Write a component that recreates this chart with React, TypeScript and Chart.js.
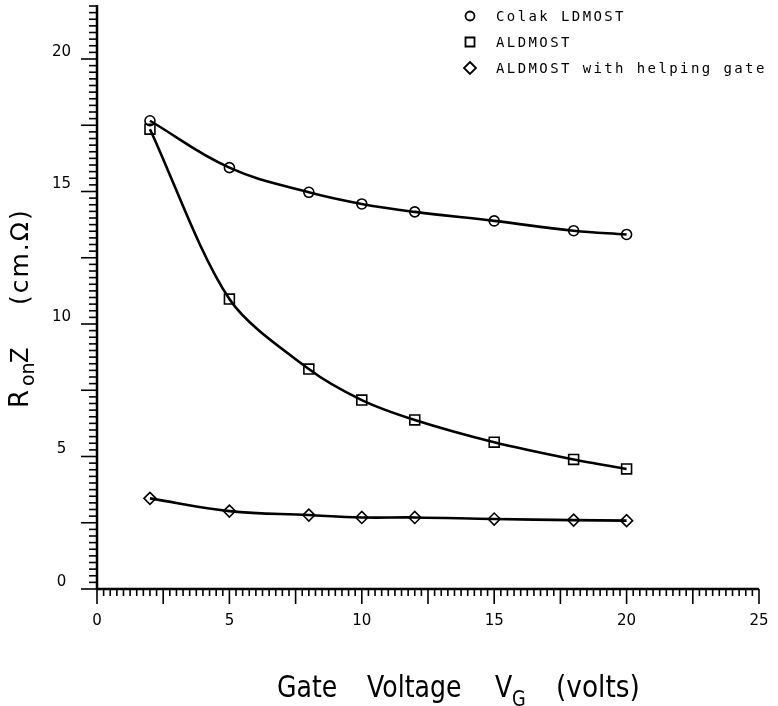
import React, { useEffect, useRef } from 'react';
import { Chart, registerables } from 'chart.js';

Chart.register(...registerables);

// ---- data ----
const gateVoltage = [2, 5, 8, 10, 12, 15, 18, 20];
const colakLdmost = [17.67, 15.9, 14.97, 14.53, 14.23, 13.89, 13.52, 13.38];
const aldmost = [17.35, 10.94, 8.3, 7.13, 6.38, 5.54, 4.89, 4.53];
const aldmostHelpingGate = [3.42, 2.94, 2.79, 2.7, 2.7, 2.64, 2.6, 2.58];
const seriesNames = ['Colak LDMOST', 'ALDMOST', 'ALDMOST with helping gate'];
const seriesMarkers = ['circle', 'rect', 'rectRot'];
const xRange = [0, 25];
const yRange = [0, 22];
const labelStep = 5;
const majorTickStep = 2.5;
const minorTickStep = 0.25;

const BLACK = '#000';

function drawMarker(ctx: CanvasRenderingContext2D, style: string, x: number, y: number) {
  ctx.beginPath();
  if (style === 'circle') {
    ctx.arc(x, y, 4.5, 0, Math.PI * 2);
  } else if (style === 'rect') {
    ctx.rect(x - 4.5, y - 4.5, 9, 9);
  } else {
    ctx.moveTo(x, y - 6);
    ctx.lineTo(x + 6, y);
    ctx.lineTo(x, y + 6);
    ctx.lineTo(x - 6, y);
    ctx.closePath();
  }
  ctx.stroke();
}

const axesPlugin = {
  id: 'handAxes',
  afterDraw(chart: any) {
    const ctx: CanvasRenderingContext2D = chart.ctx;
    const xs = chart.scales.x;
    const ys = chart.scales.y;
    const x0 = xs.getPixelForValue(xRange[0]);
    const x1 = xs.getPixelForValue(xRange[1]);
    const y0 = ys.getPixelForValue(yRange[0]);
    const y1 = ys.getPixelForValue(yRange[1]);
    ctx.save();
    ctx.strokeStyle = BLACK;
    ctx.lineCap = 'butt';
    ctx.lineWidth = 2.5;
    ctx.beginPath();
    ctx.moveTo(x0, y1 - 1);
    ctx.lineTo(x0, y0);
    ctx.lineTo(x1, y0);
    ctx.stroke();
    ctx.lineWidth = 1.6;
    const nx = Math.round((xRange[1] - xRange[0]) / minorTickStep);
    for (let i = 0; i <= nx; i++) {
      const v = xRange[0] + i * minorTickStep;
      const major = Math.abs(v / majorTickStep - Math.round(v / majorTickStep)) < 1e-6;
      const px = xs.getPixelForValue(v);
      ctx.beginPath();
      ctx.moveTo(px, y0);
      ctx.lineTo(px, y0 + (major ? 15 : 7));
      ctx.stroke();
    }
    const ny = Math.round((yRange[1] - yRange[0]) / minorTickStep);
    for (let i = 0; i <= ny; i++) {
      const v = yRange[0] + i * minorTickStep;
      const major = Math.abs(v / majorTickStep - Math.round(v / majorTickStep)) < 1e-6;
      const py = ys.getPixelForValue(v);
      ctx.beginPath();
      ctx.moveTo(x0, py);
      ctx.lineTo(x0 - (major ? 16 : 8), py);
      ctx.stroke();
    }
    ctx.restore();
  },
};

const legendPlugin = {
  id: 'handLegend',
  afterDraw(chart: any) {
    const ctx: CanvasRenderingContext2D = chart.ctx;
    ctx.save();
    ctx.strokeStyle = BLACK;
    ctx.fillStyle = BLACK;
    ctx.lineWidth = 1.8;
    ctx.font = '14px "DejaVu Sans Mono"';
    (ctx as any).letterSpacing = '2.4px';
    ctx.textBaseline = 'middle';
    ctx.textAlign = 'left';
    seriesNames.forEach((name, i) => {
      const y = 16 + i * 26;
      drawMarker(ctx, seriesMarkers[i], 470, y);
      ctx.fillText(name, 496, y + 1);
    });
    ctx.restore();
  },
};

function scaledText(ctx: CanvasRenderingContext2D, text: string, x: number, y: number, font: string, sx: number) {
  ctx.save();
  ctx.font = font;
  ctx.translate(x, y);
  ctx.scale(sx, 1);
  ctx.fillText(text, 0, 0);
  ctx.restore();
}

const titlePlugin = {
  id: 'handTitles',
  afterDraw(chart: any) {
    const ctx: CanvasRenderingContext2D = chart.ctx;
    ctx.save();
    ctx.fillStyle = BLACK;
    ctx.textBaseline = 'alphabetic';
    ctx.textAlign = 'left';
    const big = '30px "DejaVu Sans"';
    const small = '21px "DejaVu Sans"';
    const sx = 0.84;
    scaledText(ctx, 'Gate', 277, 697, big, sx);
    scaledText(ctx, 'Voltage', 367, 697, big, sx);
    scaledText(ctx, 'V', 495, 697, big, sx);
    scaledText(ctx, 'G', 512, 706, small, sx);
    scaledText(ctx, '(volts)', 556, 697, big, 0.88);

    ctx.save();
    ctx.translate(28, 408);
    ctx.rotate(-Math.PI / 2);
    scaledText(ctx, 'R', 0, 0, '26px "DejaVu Sans"', 1.0);
    scaledText(ctx, 'on', 22, 6, '19px "DejaVu Sans"', 1.0);
    scaledText(ctx, 'Z', 45, 0, '25px "DejaVu Sans"', 0.9);
    ctx.save();
    (ctx as any).letterSpacing = '2px';
    scaledText(ctx, '(cm.Ω)', 103, 0, '25px "DejaVu Sans"', 1.0);
    ctx.restore();
    ctx.restore();
    ctx.restore();
  },
};

function toPoints(values: number[]) {
  return gateVoltage.map((x, i) => ({ x, y: values[i] }));
}

export default function App() {
  const ref = useRef<HTMLCanvasElement>(null);
  useEffect(() => {
    const canvas = ref.current;
    if (!canvas) return;
    const common = {
      borderColor: BLACK,
      borderWidth: 2.6,
      pointBorderColor: BLACK,
      pointBackgroundColor: 'rgba(0,0,0,0)',
      pointBorderWidth: 1.6,
      fill: false,
      tension: 0.4,
    };
    const chart = new Chart(canvas, {
      type: 'line',
      data: {
        datasets: [
          { ...common, label: seriesNames[0], data: toPoints(colakLdmost), pointStyle: 'circle', pointRadius: 5 },
          { ...common, label: seriesNames[1], data: toPoints(aldmost), pointStyle: 'rect', pointRadius: 7, tension: 0.3 },
          { ...common, label: seriesNames[2], data: toPoints(aldmostHelpingGate), pointStyle: 'rectRot', pointRadius: 6 },
        ],
      },
      options: {
        responsive: false,
        animation: false,
        events: [],
        layout: { autoPadding: false, padding: { left: 0, right: 19, top: 6, bottom: 0 } },
        plugins: { legend: { display: false }, tooltip: { enabled: false } },
        scales: {
          x: {
            type: 'linear',
            min: xRange[0],
            max: xRange[1],
            afterFit: (s: any) => { s.height = 117; s.paddingLeft = 0; s.paddingRight = 0; },
            grid: { display: false },
            border: { display: false },
            ticks: {
              stepSize: labelStep,
              includeBounds: false,
              padding: 15,
              maxRotation: 0,
              color: BLACK,
              font: { family: 'DejaVu Sans', size: 15 },
            },
          },
          y: {
            type: 'linear',
            min: yRange[0],
            max: yRange[1],
            afterFit: (s: any) => { s.width = 97; s.paddingTop = 0; s.paddingBottom = 0; },
            grid: { display: false },
            border: { display: false },
            ticks: {
              stepSize: labelStep,
              includeBounds: false,
              padding: 18,
              crossAlign: 'center',
              labelOffset: -7,
              color: BLACK,
              font: { family: 'DejaVu Sans', size: 15 },
            },
          },
        },
      },
      plugins: [axesPlugin, legendPlugin, titlePlugin],
    });
    return () => chart.destroy();
  }, []);
  return (
    <div style={{ position: 'fixed', left: 0, top: 0, width: 778, height: 706, background: '#fff' }}>
      <canvas ref={ref} width={778} height={706} style={{ display: 'block', width: 778, height: 706 }} />
    </div>
  );
}
